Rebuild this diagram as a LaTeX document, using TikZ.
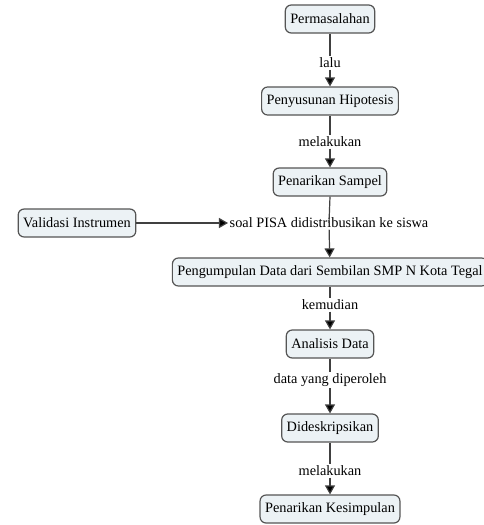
\documentclass[tikz,border=0pt]{standalone}
\usepackage{fontspec}
\setmainfont{Liberation Serif}
\usetikzlibrary{arrows.meta}
\definecolor{isikonsep}{HTML}{ECF2F5}
\definecolor{tepikonsep}{HTML}{555555}
\tikzset{
	konsep/.style={draw=tepikonsep, line width=1.2pt, rounded corners=6pt, fill=isikonsep, inner xsep=5pt, minimum height=28pt, font=\fontsize{14.3}{16}\selectfont},
	frasa/.style={inner sep=1.5pt, font=\fontsize{14.3}{16}\selectfont},
	garis/.style={line width=1.2pt, draw=black!75},
	panah/.style={garis, -{Triangle[length=9pt,width=10pt,fill=black]}}
}

\begin{document}
\begin{tikzpicture}[x=1pt,y=-1pt]
			\useasboundingbox (0,0) rectangle (483,525);
			\node[konsep] (masalah) at (330,19) {Permasalahan};
			\node[frasa] (lalu) at (330,63) {lalu};
			\node[konsep] (hipotesis) at (330,101) {Penyusunan Hipotesis};
			\node[frasa] (melakukan1) at (330,142) {melakukan};
			\node[konsep] (sampel) at (330,182) {Penarikan Sampel};
			\node[konsep] (validasi) at (77,223) {Validasi Instrumen};
			\node[frasa] (soal) at (329,223) {soal PISA didistribusikan ke siswa};
			\node[konsep] (kumpul) at (330,272) {Pengumpulan Data dari Sembilan SMP N Kota Tegal};
			\node[frasa] (kemudian) at (330,305) {kemudian};
			\node[konsep] (analisis) at (330,344) {Analisis Data};
			\node[frasa] (diperoleh) at (330,380) {data yang diperoleh};
			\node[konsep] (deskripsi) at (330,428) {Dideskripsikan};
			\node[frasa] (melakukan2) at (330,471) {melakukan};
			\node[konsep] (simpulan) at (330,509) {Penarikan Kesimpulan};
			\draw[garis] (masalah) -- (lalu);
			\draw[panah] (lalu) -- (hipotesis);
			\draw[garis] (hipotesis) -- (melakukan1);
			\draw[panah] (melakukan1) -- (sampel);
			\draw[garis] (sampel.south) -- (soal.center);
			\draw[panah] (validasi) -- (soal);
			\draw[panah] (soal) -- (kumpul);
			\draw[garis] (kumpul) -- (kemudian);
			\draw[panah] (kemudian) -- (analisis);
			\draw[garis] (analisis) -- (diperoleh);
			\draw[panah] (diperoleh) -- (deskripsi);
			\draw[garis] (deskripsi) -- (melakukan2);
			\draw[panah] (melakukan2) -- (simpulan);
		\end{tikzpicture}
\end{document}
